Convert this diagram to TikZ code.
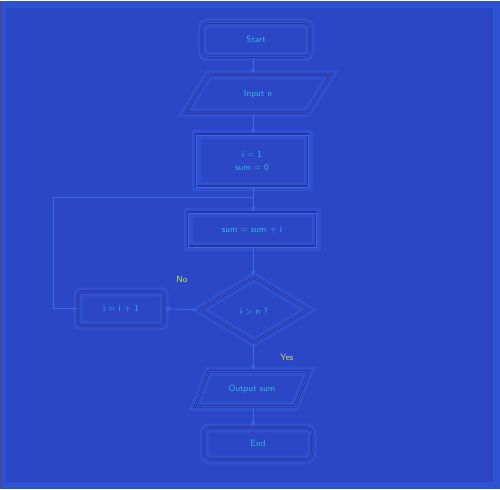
\documentclass[tikz,border=0pt]{standalone}
\usetikzlibrary{shapes.geometric,arrows.meta,positioning}
\definecolor{bg}{HTML}{2B47C6}
\definecolor{rim}{HTML}{2D52D4}
\definecolor{halo}{HTML}{3050D2}
\definecolor{shade}{HTML}{2A33A4}
\definecolor{edge}{HTML}{3A6BE6}
\definecolor{txt}{HTML}{33B6E2}
\definecolor{hot}{HTML}{C8DC48}
\tikzset{
  base/.style={draw=shade, line width=2.6pt, text=txt, font=\sffamily\small, align=center,
    preaction={draw=halo, line width=9pt}, postaction={draw=edge, line width=0.5pt}},
  term/.style={base, rectangle, rounded corners=6pt, minimum width=108pt, minimum height=34pt},
  io/.style={base, trapezium, trapezium left angle=60, trapezium right angle=120, trapezium stretches=true, minimum height=36pt},
  proc/.style={base, rectangle, minimum height=34pt},
  dec/.style={base, diamond, aspect=1.7, minimum width=110pt, minimum height=66pt, inner sep=0pt},
  conn/.style={draw=edge, line width=0.8pt, -{Stealth[length=5pt]}},
  lab/.style={text=hot, font=\sffamily\small}
}
\begin{document}
\begin{tikzpicture}[x=1pt,y=-1pt]
\fill[rim] (0,0) rectangle (500,488);
\fill[bg] (6,7) rectangle (493,481);
\draw[line width=1.5pt, color=shade!70!gray] (0.75,0) -- (0.75,488);
\useasboundingbox (0,0) rectangle (500,488);

\node[term] (start) at (256,39) {Start};
\node[io, minimum width=146pt, minimum height=38pt] (input) at (258,93) {Input n};
\node[proc, minimum width=112pt, minimum height=52pt] (init) at (252,160) {i = 1\\[2pt] sum = 0};
\node[proc, minimum width=128pt] (add) at (252,229) {sum = sum + i};
\node[dec] (cond) at (254,309) {\\[-2pt]i $>$ n ?};
\node[proc, rounded corners=3pt, minimum width=86pt] (inc) at (121,308) {i = i + 1};
\node[io, minimum width=114pt, minimum height=35pt] (out) at (252,388) {Output sum};
\node[term, minimum height=32pt] (end) at (258,443) {End};

\coordinate (c1) at (53,308);
\coordinate (c2) at (53,197);
\coordinate (c3) at (253,197);

\draw[conn] (start.south -| 253,0) -- (input.north -| 253,0);
\draw[conn] (input.south -| 253,0) -- (init.north -| 253,0);
\draw[conn] (init.south -| 253,0) -- (add.north -| 253,0);
\draw[conn] (add.south -| 253,0) -- (cond.north -| 253,0);
\draw[conn] (cond.west) -- (inc.east);
\node[lab] (no) at (182,279) {No};
\draw[draw=edge, line width=0.8pt] (inc.west) -- (c1) -- (c2) -- (c3);
\draw[conn] (cond.south -| 253,0) -- (out.north -| 253,0);
\node[lab] (yes) at (287,357) {Yes};
\draw[conn] (out.south -| 253,0) -- (end.north -| 253,0);
\end{tikzpicture}
\end{document}
